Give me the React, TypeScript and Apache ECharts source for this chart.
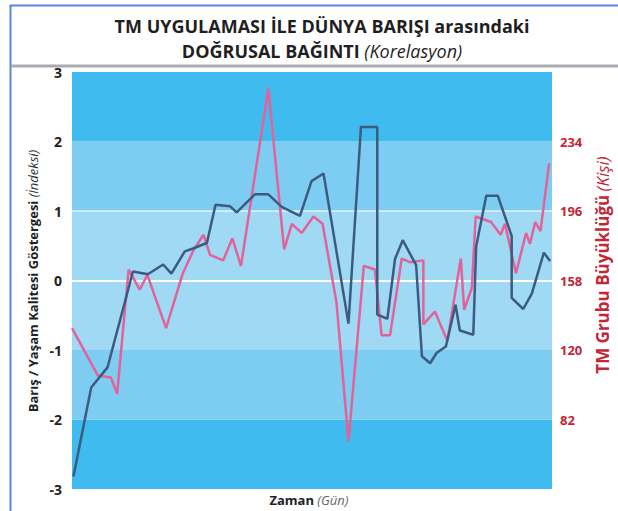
import React, { useEffect, useRef } from "react";
import * as echarts from "echarts";

// Zaman (Gün) positions and values
const peaceDays = [0.3, 4.0, 7.4, 12.7, 15.8, 19.0, 20.7, 23.5, 25.2, 28.1, 29.9, 32.9, 34.3, 38.1, 40.9, 43.7, 47.5, 49.9, 52.4, 57.6, 60.2, 63.6, 63.6, 65.7, 67.3, 68.9, 71.7, 72.9, 74.6, 76.0, 77.9, 79.9, 80.8, 83.6, 84.2, 86.3, 88.7, 91.6, 91.6, 94.0, 95.8, 98.3, 99.6];
const peaceIndex = [-2.82, -1.54, -1.25, 0.13, 0.09, 0.23, 0.10, 0.42, 0.46, 0.54, 1.09, 1.07, 0.98, 1.24, 1.24, 1.06, 0.93, 1.43, 1.54, -0.62, 2.21, 2.21, -0.49, -0.55, 0.31, 0.58, 0.22, -1.09, -1.19, -1.04, -0.95, -0.35, -0.72, -0.78, 0.49, 1.22, 1.22, 0.64, -0.25, -0.41, -0.19, 0.40, 0.28];

const groupDays = [0, 5.4, 8.1, 9.4, 11.8, 14.1, 15.7, 19.6, 23.1, 25.2, 27.4, 28.75, 31.5, 33.4, 35.2, 40.9, 44.2, 45.8, 47.85, 50.3, 52.2, 55.1, 57.6, 60.8, 63.1, 64.5, 66.25, 68.7, 70.4, 73.2, 73.2, 75.6, 78.2, 81.0, 81.7, 83.3, 84.1, 87.3, 89.3, 90.2, 92.5, 94.6, 95.4, 96.5, 97.6, 99.4];
const groupSize = [132, 106, 105, 96, 164, 153, 161, 132, 162, 174, 183, 172, 169, 181, 166, 263, 175, 189, 184, 193, 189, 146, 70, 166, 164, 128, 128, 170, 168, 169, 134, 141, 125, 170, 142, 154, 193, 190, 183, 189, 162, 184, 178, 190, 185, 222];

const leftTicks = [-3, -2, -1, 0, 1, 2, 3];
const rightTicks = [82, 120, 158, 196, 234];

const TITLE_1 = "TM UYGULAMASI İLE DÜNYA BARIŞI arasındaki";
const TITLE_2a = "DOĞRUSAL BAĞINTI";
const TITLE_2b = "(Korelasyon)";

const FONT = "'Open Sans', 'Noto Sans', sans-serif";

export default function App() {
  const ref = useRef<HTMLDivElement>(null);
  useEffect(() => {
    if (!ref.current) return;
    const chart = echarts.init(ref.current, undefined, { renderer: "svg" });
    const dark = "#3fbbef";
    const mid = "#7dccf1";
    const light = "#9fd9f3";
    chart.setOption({
      animation: false,
      backgroundColor: "#ffffff",
      textStyle: { fontFamily: FONT },
      title: {
        left: 317,
        textAlign: "center",
        top: 8,
        text: `{b|${TITLE_1}}\n{b|${TITLE_2a}} {i|${TITLE_2b}}`,
        textStyle: {
          rich: {
            b: { fontFamily: FONT, fontWeight: "bold", fontSize: 18, color: "#1f1f1f", lineHeight: 25 },
            i: { fontFamily: FONT, fontStyle: "italic", fontWeight: "normal", fontSize: 18, color: "#1f1f1f", lineHeight: 25 },
          },
        },
      },
      graphic: [
        { type: "line", shape: { x1: 10.5, y1: 5, x2: 10.5, y2: 511 }, style: { stroke: "#5b86d6", lineWidth: 2 } },
        { type: "line", shape: { x1: 10, y1: 5.5, x2: 618, y2: 5.5 }, style: { stroke: "#5b86d6", lineWidth: 2 } },
        { type: "line", shape: { x1: 11, y1: 66, x2: 618, y2: 66 }, style: { stroke: "#a8acb2", lineWidth: 3 } },
        {
          type: "text",
          x: 33,
          y: 281,
          rotation: Math.PI / 2,
          style: {
            text: "{b|Barış / Yaşam Kalitesi Göstergesi} {i|(İndeksi)}",
            align: "center",
            verticalAlign: "middle",
            rich: {
              b: { fontFamily: FONT, fontWeight: "bold", fontSize: 13, fill: "#222" },
              i: { fontFamily: FONT, fontStyle: "italic", fontSize: 13, fill: "#333" },
            },
          },
        },
        {
          type: "text",
          x: 602,
          y: 265,
          rotation: Math.PI / 2,
          style: {
            text: "{b|TM Grubu Büyüklüğü} {i|(Kişi)}",
            align: "center",
            verticalAlign: "middle",
            rich: {
              b: { fontFamily: FONT, fontWeight: "bold", fontSize: 17, fill: "#c0283a" },
              i: { fontFamily: FONT, fontStyle: "italic", fontSize: 17, fill: "#c0283a" },
            },
          },
        },
        {
          type: "text",
          x: 309,
          y: 500,
          style: {
            text: "{b|Zaman} {i|(Gün)}",
            align: "center",
            verticalAlign: "middle",
            rich: {
              b: { fontFamily: FONT, fontWeight: "bold", fontSize: 13, fill: "#222" },
              i: { fontFamily: FONT, fontStyle: "italic", fontSize: 13, fill: "#666" },
            },
          },
        },
      ],
      grid: { left: 72, right: 66, top: 72, bottom: 22, containLabel: false },
      xAxis: {
        type: "value",
        min: 0,
        max: 100,
        axisLine: { show: false },
        axisTick: { show: false },
        axisLabel: { show: false },
        splitLine: { show: false },
      },
      yAxis: [
        {
          type: "value",
          min: leftTicks[0],
          max: leftTicks[leftTicks.length - 1],
          interval: 1,
          axisLine: { show: false },
          axisTick: { show: false },
          axisLabel: { fontFamily: FONT, fontWeight: "bold", fontSize: 14, color: "#222", margin: 10 },
          splitArea: { show: true, areaStyle: { color: [dark, mid, light, light, mid, dark] } },
          splitLine: {
            show: true,
            lineStyle: {
              color: ["transparent", "transparent", "transparent", "#ffffff", "rgba(255,255,255,0.55)", "transparent", "transparent"],
              width: 2,
            },
          },
        },
        {
          type: "value",
          min: 44,
          max: 272,
          interval: 38,
          position: "right",
          axisLine: { show: false },
          axisTick: { show: false },
          splitLine: { show: false },
          axisLabel: {
            fontFamily: FONT,
            fontWeight: "bold",
            fontSize: 13,
            color: "#c0283a",
            margin: 8,
            formatter: (v: number) => (rightTicks.indexOf(v) >= 0 ? String(v) : ""),
          },
        },
      ],
      series: [
        {
          type: "line",
          yAxisIndex: 1,
          data: groupDays.map((d, i) => [d, groupSize[i]]),
          showSymbol: false,
          symbol: "none",
          lineStyle: { color: "#e2639a", width: 2.5 },
          z: 3,
        },
        {
          type: "line",
          yAxisIndex: 0,
          data: peaceDays.map((d, i) => [d, peaceIndex[i]]),
          showSymbol: false,
          symbol: "none",
          lineStyle: { color: "#3d5a80", width: 2.5 },
          z: 4,
        },
      ],
    });
    return () => chart.dispose();
  }, []);
  return <div ref={ref} style={{ width: 618, height: 511, position: "absolute", left: 0, top: 0 }} />;
}
